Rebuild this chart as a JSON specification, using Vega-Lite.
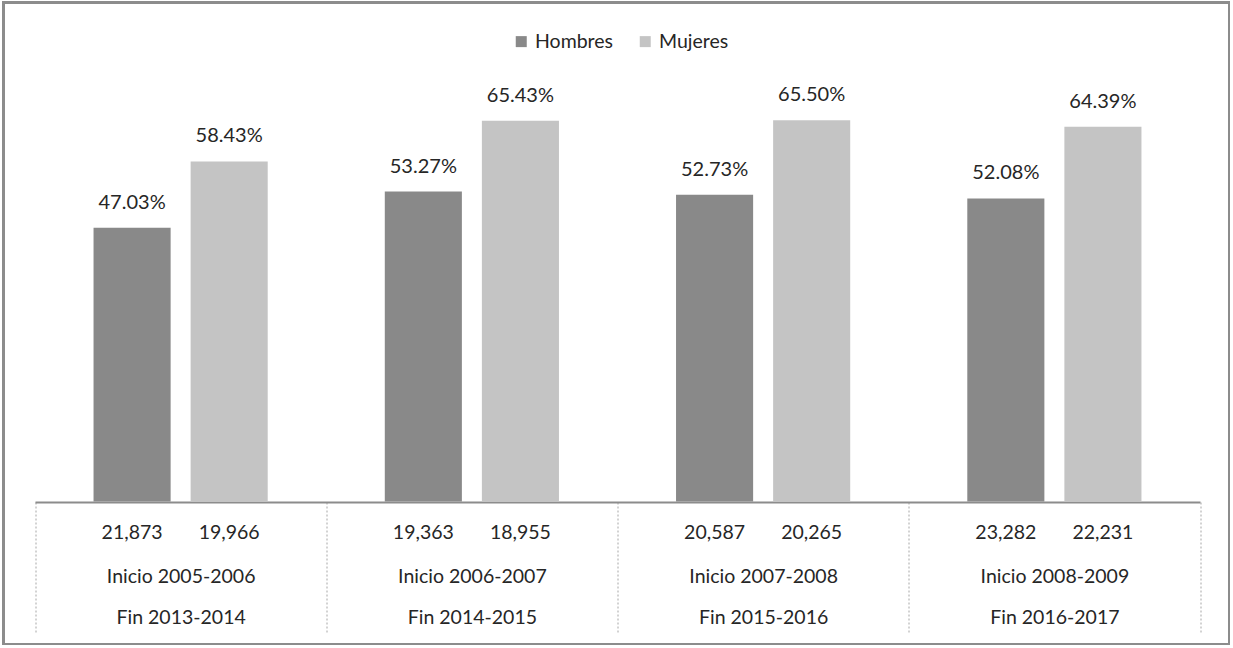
{
  "$schema": "https://vega.github.io/schema/vega-lite/v6.json",
  "width": 1226,
  "height": 642,
  "autosize": "none",
  "padding": {"left": 3.5, "top": 2.5, "right": 0, "bottom": 0},
  "background": "white",
  "config": {"view": {"stroke": "#8c8c8c", "strokeWidth": 3}, "font": "Lato"},
  "data": {"values": [
    {"grupo": "Inicio 2005-2006|Fin 2013-2014", "sexo": "Hombres", "pct": 0.4703, "n": 21873},
    {"grupo": "Inicio 2005-2006|Fin 2013-2014", "sexo": "Mujeres", "pct": 0.5843, "n": 19966},
    {"grupo": "Inicio 2006-2007|Fin 2014-2015", "sexo": "Hombres", "pct": 0.5327, "n": 19363},
    {"grupo": "Inicio 2006-2007|Fin 2014-2015", "sexo": "Mujeres", "pct": 0.6543, "n": 18955},
    {"grupo": "Inicio 2007-2008|Fin 2015-2016", "sexo": "Hombres", "pct": 0.5273, "n": 20587},
    {"grupo": "Inicio 2007-2008|Fin 2015-2016", "sexo": "Mujeres", "pct": 0.6550, "n": 20265},
    {"grupo": "Inicio 2008-2009|Fin 2016-2017", "sexo": "Hombres", "pct": 0.5208, "n": 23282},
    {"grupo": "Inicio 2008-2009|Fin 2016-2017", "sexo": "Mujeres", "pct": 0.6439, "n": 22231}
  ]},
  "encoding": {
    "x": {
      "field": "grupo", "type": "nominal", "sort": null,
      "scale": {"range": [31.5, 1196.5], "paddingInner": 0, "paddingOuter": 0},
      "axis": {
        "orient": "bottom", "offset": -142.5, "title": null,
        "domainColor": "#8c8c8c", "domainWidth": 2,
        "tickBand": "extent", "tickSize": 131, "tickColor": "#a6a6a6", "tickDash": [2, 2], "tickWidth": 1,
        "labelExpr": "split(datum.label, '|')",
        "labelFontSize": 19.5, "labelColor": "#262626", "labelLineHeight": 41,
        "labelBaseline": "middle", "labelPadding": -57, "labelAngle": 0
      }
    },
    "xOffset": {"field": "sexo", "type": "nominal", "sort": ["Hombres", "Mujeres"], "scale": {"paddingInner": 0.206, "paddingOuter": 0.603}}
  },
  "layer": [
    {
      "mark": {"type": "bar"},
      "encoding": {
        "y": {"field": "pct", "type": "quantitative", "scale": {"domain": [-0.2455, 0.8574], "nice": false, "zero": false}, "axis": null},
        "y2": {"datum": 0},
        "color": {
          "field": "sexo", "type": "nominal", "sort": ["Hombres", "Mujeres"],
          "scale": {"range": ["#898989", "#c4c4c4"]},
          "legend": {
            "orient": "none", "legendX": 508, "legendY": 29, "direction": "horizontal", "title": null,
            "symbolType": "square", "symbolSize": 121, "symbolStrokeWidth": 0, "symbolOpacity": 1,
            "labelFontSize": 19.5, "labelColor": "#262626", "columnPadding": 22, "labelOffset": 4
          }
        }
      }
    },
    {
      "mark": {"type": "text", "baseline": "middle", "dy": -25, "fontSize": 20, "color": "#262626"},
      "encoding": {
        "y": {"field": "pct", "type": "quantitative"},
        "text": {"field": "pct", "type": "quantitative", "format": ".2%"}
      }
    },
    {
      "mark": {"type": "text", "baseline": "middle", "dy": 31, "fontSize": 19.5, "color": "#262626"},
      "encoding": {
        "y": {"datum": 0},
        "text": {"field": "n", "type": "quantitative", "format": ","}
      }
    }
  ]
}
